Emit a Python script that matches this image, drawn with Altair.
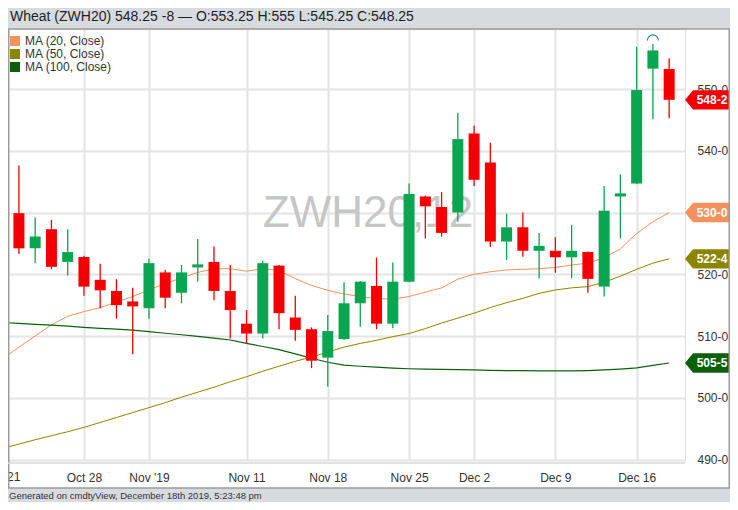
import json
import altair as alt
import pandas as pd

# ---------------- data ----------------
dates = ["Oct 22", "Oct 23", "Oct 24", "Oct 25", "Oct 28", "Oct 29", "Oct 30", "Oct 31", "Nov 1",
         "Nov 4", "Nov 5", "Nov 6", "Nov 7", "Nov 8", "Nov 11", "Nov 12", "Nov 13", "Nov 14", "Nov 15",
         "Nov 18", "Nov 19", "Nov 20", "Nov 21", "Nov 22", "Nov 25", "Nov 26", "Nov 27", "Nov 29",
         "Dec 2", "Dec 3", "Dec 4", "Dec 5", "Dec 6", "Dec 9", "Dec 10", "Dec 11", "Dec 12", "Dec 13",
         "Dec 16", "Dec 17", "Dec 18"]

opens = [529.9, 524.2, 527.3, 522.0, 522.8, 519.1, 517.3, 515.6, 514.5,
         520.3, 517.0, 521.1, 522.0, 517.3, 512.0, 510.4, 521.4, 513.0, 511.1,
         506.5, 509.5, 515.3, 518.1, 512.0, 518.8, 532.6, 530.9, 530.0,
         542.8, 538.1, 525.3, 527.6, 523.8, 523.8, 522.75, 523.6, 518.0, 532.6,
         534.7, 553.3, 553.25]
highs = [537.6, 529.2, 528.8, 527.3, 523.0, 521.7, 519.2, 517.8, 522.5,
         520.7, 521.5, 525.7, 524.5, 521.5, 514.2, 522.2, 521.5, 516.5, 511.4,
         513.4, 518.7, 518.9, 522.7, 521.9, 534.7, 532.75, 533.3, 546.1,
         544.1, 541.3, 529.8, 530.0, 526.7, 526.0, 528.0, 523.7, 534.3, 536.2,
         556.85, 557.3, 555.0]
lows = [523.3, 521.8, 520.8, 519.8, 516.5, 514.5, 512.8, 507.1, 512.8,
        514.5, 515.3, 518.8, 515.8, 509.6, 508.8, 509.6, 511.1, 509.25, 504.8,
        501.8, 509.4, 511.5, 511.1, 511.25, 518.7, 525.8, 526.1, 528.5,
        534.3, 524.4, 522.3, 522.85, 519.3, 520.25, 519.35, 517.0, 516.4, 525.8,
        534.6, 545.1, 545.25]
closes = [524.2, 526.1, 521.2, 523.6, 518.0, 517.4, 515.0, 514.8, 521.8,
          516.2, 520.3, 521.6, 517.3, 514.2, 510.4, 521.8, 513.7, 511.0, 506.0,
          510.8, 515.3, 518.8, 512.0, 518.8, 533.0, 531.0, 526.7, 541.9,
          535.3, 525.3, 527.6, 523.8, 524.6, 522.75, 523.8, 519.25, 530.3, 533.1,
          549.85, 556.25, 548.25]

# moving averages start one session earlier (Oct 21)
ma_dates = ["Oct 21"] + dates
ma20 = [506.3, 508.2, 510.0, 511.8, 513.2, 513.95, 514.6, 515.5, 516.4, 517.45,
        518.5, 519.4, 520.3, 520.9, 520.9, 520.5, 520.9, 520.6, 519.3, 518.2,
        517.4, 516.8, 516.4, 516.05, 515.95, 516.4, 517.1, 517.8, 519.2,
        520.0, 520.4, 520.7, 520.8, 520.9, 521.1, 521.5, 521.8, 522.7, 524.1,
        526.6, 528.5, 530.0]
ma50 = [491.8, 492.5, 493.2, 493.85, 494.5, 495.2, 496.0, 496.8, 497.6, 498.4,
        499.2, 500.1, 500.9, 501.7, 502.6, 503.4, 504.3, 505.1, 505.9, 506.6,
        507.4, 508.2, 508.8, 509.3, 509.9, 510.4, 511.2, 512.1, 512.9,
        513.7, 514.6, 515.4, 516.1, 516.9, 517.45, 517.8, 518.0, 518.7, 519.7,
        520.8, 521.8, 522.5]
ma100 = [512.2, 512.05, 511.9, 511.75, 511.6, 511.4, 511.25, 511.1, 510.95, 510.7,
         510.45, 510.2, 509.95, 509.65, 509.35, 508.8, 508.3, 507.8, 507.1, 506.4,
         505.75, 505.3, 505.1, 504.95, 504.8, 504.7, 504.65, 504.6, 504.55,
         504.5, 504.45, 504.4, 504.4, 504.35, 504.35, 504.35, 504.4, 504.5, 504.65,
         504.85, 505.25, 505.625]

ma_names = ["MA (20, Close)", "MA (50, Close)", "MA (100, Close)"]
ma_colors = ["#f4915c", "#8c8500", "#0c600c"]
ma_widths = [1.0, 1.0, 1.2]

tick_dates = ["Oct 28", "Nov 1", "Nov 11", "Nov 18", "Nov 25", "Dec 2", "Dec 9", "Dec 16"]
tick_labels = ["Oct 28", "Nov '19", "Nov 11", "Nov 18", "Nov 25", "Dec 2", "Dec 9", "Dec 16"]
price_ticks = [490, 500, 510, 520, 530, 540, 550]

title_text = "Wheat (ZWH20) 548.25 -8 \u2014 O:553.25 H:555 L:545.25 C:548.25"
footer_text = "Generated on cmdtyView, December 18th 2019, 5:23:48 pm"
watermark_text = "ZWH20,12"
marker_date = "Dec 17"

GREEN = "#0aa550"
RED = "#f50000"
HEADER = "#d7dade"
FONT = "Liberation Sans"

# ---------------- tables ----------------
candles = pd.DataFrame({
    "date": dates, "idx": list(range(len(dates))),
    "open": opens, "high": highs, "low": lows, "close": closes,
})
ma_rows = []
for name, vals, w in zip(ma_names, [ma20, ma50, ma100], ma_widths):
    for i, (d, v) in enumerate(zip(ma_dates, vals)):
        ma_rows.append({"date": d, "idx": i - 1, "series": name, "value": v, "w": w})
ma_df = pd.DataFrame(ma_rows)
legend_df = pd.DataFrame({"series": ma_names})


def eighths(p):
    w = int(p)
    return f"{w}-{int(round((p - w) * 8))}"


tag_prices = [closes[-1], ma20[-1], ma50[-1], ma100[-1]]
tag_colors = [RED] + ma_colors
tags = pd.DataFrame({"price": tag_prices, "color": tag_colors,
                     "label": [eighths(p) for p in tag_prices]})

marker = candles[candles["date"] == marker_date]
edge = pd.DataFrame({"idx": [-1], "label": ["Oct 21"]})
one = pd.DataFrame({"k": [0]})

tick_idx = [dates.index(d) for d in tick_dates]
label_expr = "".join(f"datum.value == {i} ? {json.dumps(l)} : " for i, l in zip(tick_idx, tick_labels)) + "''"

X_DOMAIN = [-0.364, 40.667]
Y_DOMAIN = [489.92, 559.72]

xscale = alt.Scale(domain=X_DOMAIN, nice=False, zero=False)
yscale = alt.Scale(domain=Y_DOMAIN, nice=False, zero=False)

xaxis = alt.Axis(values=tick_idx, labelExpr=label_expr, title=None, grid=True,
                 gridColor="#e4e4e4", gridWidth=2, ticks=False, domain=False,
                 labelPadding=12, labelFontSize=12, labelColor="#333333", labelFont=FONT,
                 labelFlush=False, labelOverlap=False, zindex=0)
yaxis = alt.Axis(values=price_ticks, orient="right", title=None, grid=True,
                 gridColor="#e4e4e4", gridWidth=2, ticks=False, domain=False,
                 labelPadding=12, labelFontSize=12, labelColor="#333333", labelFont=FONT,
                 labelExpr="floor(datum.value) + '-' + round((datum.value - floor(datum.value)) * 8)",
                 labelFlush=False, zindex=0)

X = alt.X("idx:Q", scale=xscale, axis=xaxis)
Y = alt.Y("value:Q", scale=yscale, axis=yaxis)
ma_scale = alt.Scale(domain=ma_names, range=ma_colors)

# ---------------- layers ----------------
header = alt.Chart(one).mark_rect(color=HEADER).encode(
    x=alt.value(0), x2=alt.value(722), y=alt.value(-21), y2=alt.value(0))
footer = alt.Chart(one).mark_rect(color=HEADER).encode(
    x=alt.value(0), x2=alt.value(722), y=alt.value(459), y2=alt.value(473))

watermark = alt.Chart(one).mark_text(
    text=watermark_text, fontSize=44, color="#c6c6c6", font=FONT, align="center",
    baseline="alphabetic").encode(x=alt.value(360), y=alt.value(198))

lines = alt.Chart(ma_df).mark_line(clip=True).encode(
    x=X, y=Y,
    color=alt.Color("series:N", scale=ma_scale, legend=None),
    strokeWidth=alt.StrokeWidth("w:Q", scale=None),
    order="idx:Q", detail="series:N")

# legend swatches (the marks themselves sit off-canvas; only the legend shows)
legend_layer = alt.Chart(legend_df).mark_square(size=100, filled=True, opacity=1).encode(
    x=alt.value(-60), y=alt.value(-60),
    fill=alt.Fill("series:N", scale=alt.Scale(domain=ma_names, range=ma_colors),
                  legend=alt.Legend(title=None, orient="none", legendX=1, legendY=6,
                                    symbolType="square", symbolSize=100, symbolStrokeWidth=0,
                                    labelFontSize=12, labelFont=FONT, labelColor="#333333",
                                    rowPadding=1, labelOffset=4, padding=0)))

cond = alt.condition("datum.close >= datum.open", alt.value(GREEN), alt.value(RED))
wicks = alt.Chart(candles).mark_rule(strokeWidth=1.3).encode(
    x=X, y=alt.Y("low:Q", scale=yscale, axis=yaxis), y2="high:Q", color=cond)
bodies = alt.Chart(candles).mark_bar(width=11).encode(
    x=X, y=alt.Y("open:Q", scale=yscale, axis=yaxis), y2="close:Q", color=cond)

arc = alt.Chart(marker).mark_point(
    shape="M -1 0 A 1 1 0 0 1 1 0", size=121, filled=False, color="#2a8a6a",
    strokeWidth=1.2, opacity=1, yOffset=-3.5).encode(
    x=X, y=alt.Y("high:Q", scale=yscale, axis=yaxis))

tag_shape = "M -1 0 L -0.65 -0.42 L 1 -0.42 L 1 0.42 L -0.65 0.42 Z"
tag_marks = alt.Chart(tags).mark_point(shape=tag_shape, size=2116, filled=True, opacity=1,
                                       strokeWidth=0).encode(
    x=alt.value(700), y=alt.Y("price:Q", scale=yscale, axis=yaxis),
    fill=alt.Fill("color:N", scale=None, legend=None))
tag_text = alt.Chart(tags).mark_text(color="white", fontWeight="bold", fontSize=12, font=FONT,
                                     align="center", baseline="middle").encode(
    x=alt.value(704), y=alt.Y("price:Q", scale=yscale, axis=yaxis), text="label:N")

edge_label = alt.Chart(edge).mark_text(fontSize=12, font=FONT, color="#333333", align="center",
                                       baseline="top").encode(
    x=X, y=alt.value(443), text="label:N")

panel = alt.Chart(one).mark_rect(fill="white", fillOpacity=0, stroke="#9c9c9c", strokeWidth=1.5).encode(
    x=alt.value(0.75), x2=alt.value(721.25), y=alt.value(0), y2=alt.value(459))
base_line = alt.Chart(one).mark_rule(color="#d9d9d9", strokeWidth=1.5).encode(
    x=alt.value(0), x2=alt.value(677), y=alt.value(434))

title = alt.Chart(one).mark_text(text=title_text, fontSize=14, font=FONT, color="#1e1e1e",
                                 align="left", baseline="alphabetic").encode(
    x=alt.value(2), y=alt.value(-8.5))
foot = alt.Chart(one).mark_text(text=footer_text, fontSize=9.5, font=FONT, color="#333333",
                                align="left", baseline="alphabetic").encode(
    x=alt.value(1), y=alt.value(470))

chart = alt.layer(
    header, footer, watermark, lines, legend_layer, wicks, bodies, arc, tag_marks, tag_text,
    edge_label, panel, base_line, title, foot
).resolve_scale(fill="independent", color="independent").properties(
    width=677, height=431,
    autosize=alt.AutoSizeParams(type="none"),
    padding={"left": 0, "top": 21, "right": 45, "bottom": 42},
    background="white",
).configure_view(stroke="#cccccc", strokeWidth=1.5, fill="white").configure(font=FONT)

chart.save("out.html", embed_options={"renderer": "svg", "actions": False})
